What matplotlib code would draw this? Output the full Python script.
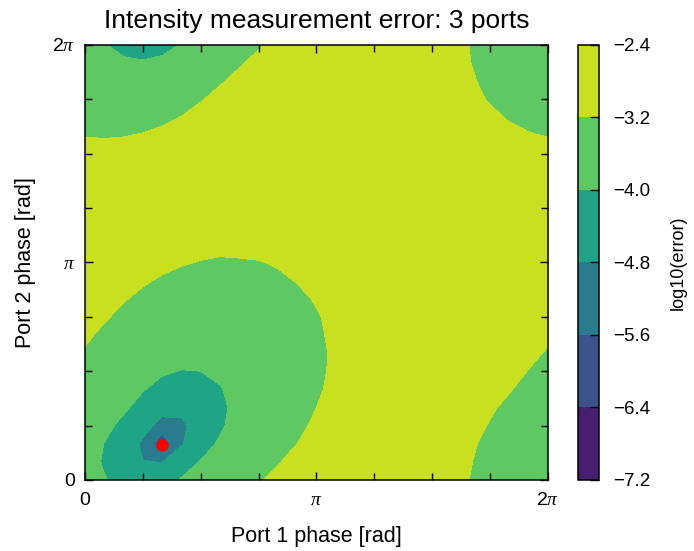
import numpy as np
import matplotlib
matplotlib.use('Agg')
import matplotlib.pyplot as plt
from matplotlib.colors import BoundaryNorm, ListedColormap
from matplotlib.ticker import MultipleLocator

plt.rcParams['font.family'] = ['Liberation Sans', 'DejaVu Sans']
plt.rcParams['mathtext.fontset'] = 'custom'
plt.rcParams['mathtext.it'] = 'Liberation Serif:italic'
plt.rcParams['mathtext.rm'] = 'Liberation Serif'

## -100*log10(error), read off on a pi/12 grid
## rows: port 2 phase 0..23*pi/12, columns: port 1 phase 0..23*pi/12
neg_log_err_x100 = [
    [378, 397, 417, 430, 422, 396, 372, 353, 337, 323, 312, 301, 292, 284, 276, 277, 285, 292, 301, 310, 321, 332, 345, 360],
    [381, 405, 438, 478, 482, 432, 397, 372, 352, 336, 322, 311, 300, 291, 282, 276, 283, 291, 299, 309, 319, 331, 345, 361],
    [376, 401, 436, 497, 710, 489, 428, 393, 368, 349, 333, 320, 308, 298, 289, 280, 281, 288, 297, 306, 316, 328, 341, 357],
    [366, 387, 414, 453, 514, 499, 446, 408, 381, 359, 342, 327, 315, 304, 294, 285, 278, 285, 293, 302, 311, 322, 335, 349],
    [354, 371, 392, 421, 454, 460, 439, 411, 386, 365, 348, 333, 320, 309, 299, 290, 282, 281, 289, 297, 306, 316, 327, 339],
    [342, 357, 375, 397, 419, 427, 420, 403, 385, 367, 351, 337, 324, 313, 303, 294, 285, 277, 284, 291, 300, 309, 318, 330],
    [332, 346, 361, 378, 394, 402, 400, 391, 378, 364, 351, 338, 326, 315, 305, 296, 288, 280, 279, 286, 293, 302, 311, 321],
    [323, 335, 349, 362, 374, 381, 383, 378, 369, 359, 348, 337, 326, 316, 307, 298, 290, 282, 275, 281, 288, 295, 304, 313],
    [315, 326, 337, 349, 358, 365, 367, 365, 360, 352, 343, 334, 324, 315, 307, 298, 291, 283, 277, 275, 282, 289, 297, 306],
    [308, 317, 327, 337, 345, 351, 354, 353, 350, 344, 337, 330, 322, 314, 306, 298, 291, 284, 277, 271, 277, 284, 291, 299],
    [301, 309, 318, 326, 333, 339, 342, 342, 340, 336, 331, 325, 318, 311, 304, 297, 290, 284, 278, 272, 272, 278, 285, 293],
    [294, 302, 310, 317, 323, 328, 331, 332, 331, 328, 324, 319, 314, 308, 302, 295, 289, 283, 277, 272, 267, 274, 280, 287],
    [288, 295, 302, 308, 314, 318, 321, 323, 322, 321, 318, 314, 309, 304, 299, 293, 288, 282, 276, 271, 266, 269, 275, 282],
    [283, 289, 295, 301, 306, 310, 313, 314, 314, 313, 311, 308, 304, 300, 295, 290, 285, 280, 275, 270, 266, 267, 270, 276],
    [277, 283, 288, 294, 298, 302, 305, 306, 307, 306, 305, 302, 299, 296, 292, 287, 283, 278, 274, 270, 272, 274, 275, 275],
    [283, 282, 282, 287, 291, 295, 297, 299, 300, 300, 299, 297, 294, 291, 288, 284, 280, 276, 272, 275, 278, 280, 282, 283],
    [291, 290, 289, 286, 285, 288, 291, 292, 293, 293, 293, 291, 289, 287, 284, 281, 277, 274, 278, 281, 284, 287, 289, 291],
    [300, 300, 298, 295, 291, 286, 284, 286, 287, 287, 287, 286, 285, 283, 280, 277, 274, 278, 282, 287, 291, 294, 297, 299],
    [310, 310, 309, 306, 302, 296, 289, 283, 281, 282, 282, 281, 280, 278, 276, 274, 277, 282, 287, 292, 297, 301, 305, 308],
    [321, 322, 321, 318, 313, 307, 299, 291, 284, 277, 277, 276, 275, 274, 272, 274, 280, 286, 291, 297, 303, 308, 314, 318],
    [332, 335, 335, 332, 327, 319, 310, 301, 292, 284, 276, 271, 271, 270, 270, 276, 282, 289, 295, 302, 309, 315, 322, 328],
    [345, 349, 351, 349, 342, 333, 322, 311, 301, 292, 284, 277, 270, 266, 271, 278, 284, 291, 298, 306, 314, 322, 330, 338],
    [357, 365, 370, 369, 362, 350, 336, 323, 312, 301, 292, 284, 277, 270, 272, 278, 285, 292, 300, 309, 317, 327, 337, 347],
    [369, 382, 392, 395, 387, 370, 352, 337, 323, 312, 302, 292, 284, 277, 272, 278, 285, 293, 301, 310, 320, 331, 342, 355],
]
levels = [-7.2, -6.4, -5.6, -4.8, -4.0, -3.2, -2.4]
best_phase = [1.04, 0.50]
phase_ticks = [0, np.pi, 2*np.pi]
phase_labels = ['0', '$\\pi$', '2$\\pi$']

z = -np.array(neg_log_err_x100) / 100.0
# phases are periodic: the 2pi edge repeats the 0 edge
z = np.vstack([z, z[:1]])
z = np.hstack([z, z[:, :1]])
ph = np.linspace(0, 2*np.pi, z.shape[0])

# contour sqrt(error) (grows ~linearly away from the optimum, so the grid
# interpolation stays smooth); same bands as the log10 levels
amp = 10 ** (z / 2)
amp_levels = [10 ** (v / 2) for v in levels]
band_colors = plt.cm.viridis((np.arange(len(levels) - 1) + 0.5) / (len(levels) - 1))

fig = plt.figure(figsize=(6.94, 5.51), dpi=100)
ax = fig.add_axes([0.1225, 0.1289, 0.667, 0.7895])
cax = fig.add_axes([0.8329, 0.1289, 0.0303, 0.7895])

ax.contourf(ph, ph, amp, levels=amp_levels, colors=band_colors)
ax.scatter([best_phase[0]], [best_phase[1]], s=80, color='#ff0000', linewidths=0, zorder=5)

ax.set_xlim(0, 2*np.pi)
ax.set_ylim(0, 2*np.pi)
ax.set_xticks(phase_ticks, phase_labels)
ax.set_yticks(phase_ticks, phase_labels)
ax.xaxis.set_minor_locator(MultipleLocator(np.pi/4))
ax.yaxis.set_minor_locator(MultipleLocator(np.pi/4))
ax.tick_params(which='both', direction='in', top=True, right=True, width=1.0, labelsize=14)
ax.tick_params(which='major', length=6)
ax.tick_params(which='minor', length=5)
ax.tick_params(axis='x', which='major', pad=9)
ax.tick_params(axis='y', which='major', pad=7)
for s in ax.spines.values():
    s.set_linewidth(1.1)

ax.set_title('Intensity measurement error: 3 ports', fontsize=19, pad=12)
ax.set_xlabel('Port 1 phase [rad]', fontsize=15.5, labelpad=12)
ax.set_ylabel('Port 2 phase [rad]', fontsize=15.5, labelpad=12)

cmap = ListedColormap(band_colors)
norm = BoundaryNorm(levels, cmap.N)
cb = fig.colorbar(plt.cm.ScalarMappable(norm=norm, cmap=cmap), cax=cax, ticks=levels)
cb.ax.set_yticklabels([('%.1f' % v).replace('-', '\u2212') for v in levels])
cb.ax.tick_params(direction='in', length=6.5, width=1.0, labelsize=13.5, pad=10)
cb.outline.set_linewidth(1.1)
cb.set_label('log10(error)', fontsize=13, labelpad=14)

fig.savefig('out.png', dpi=100)
